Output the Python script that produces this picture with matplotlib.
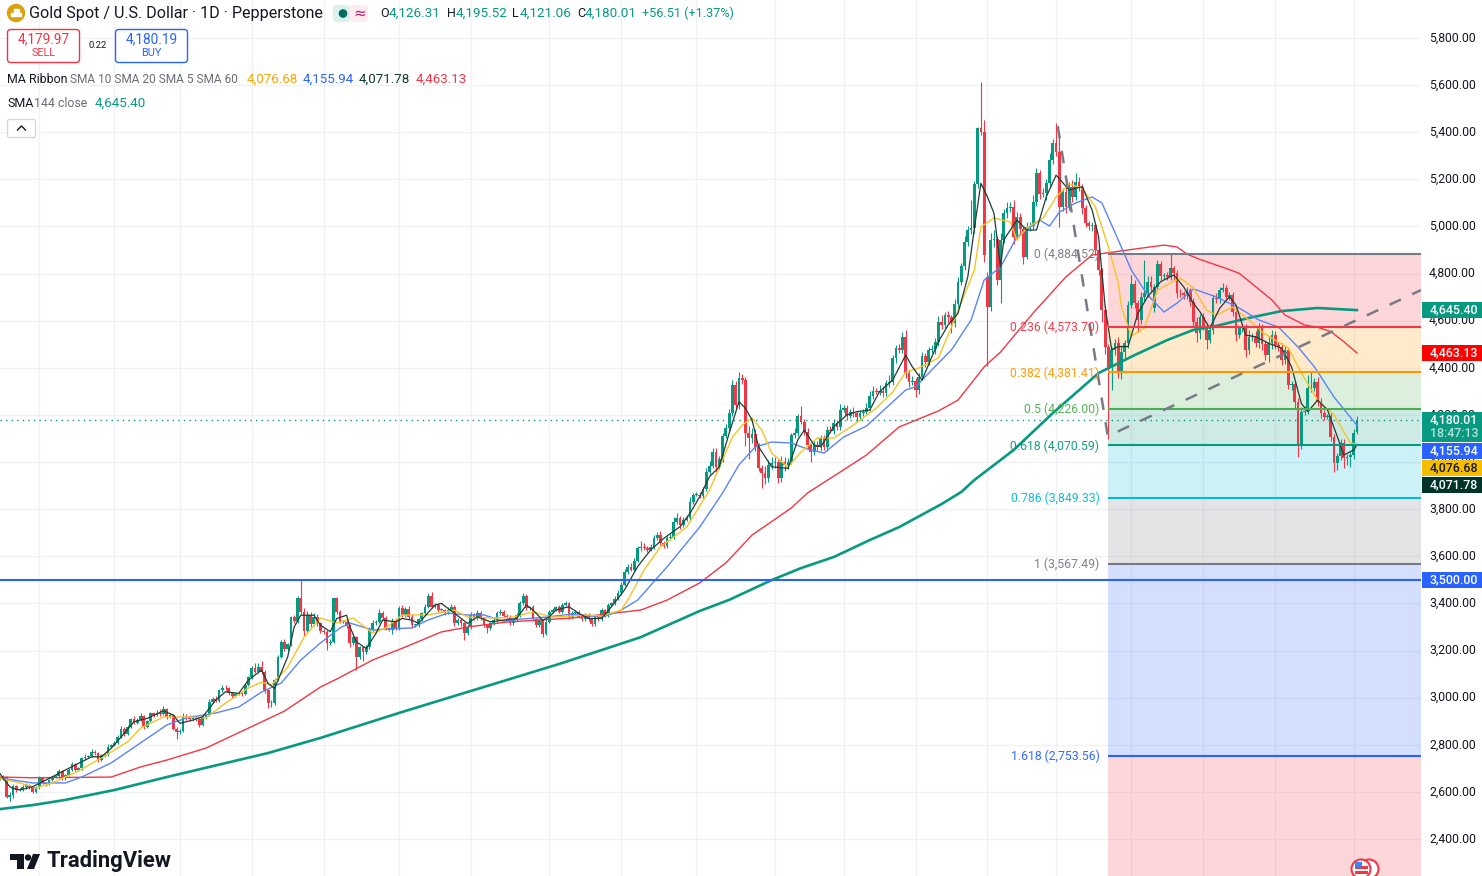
import numpy as np
import matplotlib
matplotlib.use('Agg')
import matplotlib.pyplot as plt
from matplotlib.patches import Circle, FancyBboxPatch, Polygon, Rectangle
from matplotlib.transforms import ScaledTranslation

plt.rcParams['font.family'] = ['Roboto', 'DejaVu Sans']

# daily closes, one per bar
closes = [
    2657,2664,2579,2586,2625,2608,2610,2622,2629,2619,2601,2619,2657,2639,2633,2650,2661,2667,2690,2657,
    2671,2693,2718,2695,2700,2742,2749,2752,2770,2766,2735,2756,2759,2792,2799,2809,2834,2869,2845,2877,
    2908,2894,2905,2922,2877,2902,2933,2926,2936,2930,2951,2919,2926,2869,2855,2860,2919,2912,2908,2916,
    2908,2884,2916,2926,2983,2993,2987,3032,3043,3039,3018,3007,3015,3018,3015,3053,3086,3124,3110,3131,
    3110,3032,2976,2978,3077,3174,3237,3205,3227,3341,3325,3425,3365,3284,3350,3312,3343,3315,3284,3280,
    3230,3237,3421,3365,3322,3322,3305,3230,3256,3174,3213,3195,3213,3287,3315,3322,3360,3336,3294,3287,
    3322,3294,3379,3350,3375,3343,3308,3308,3332,3358,3386,3431,3386,3393,3372,3372,3365,3372,3386,3315,
    3329,3315,3273,3301,3350,3336,3360,3336,3308,3294,3315,3329,3358,3365,3346,3343,3315,3332,3350,3400,
    3431,3379,3383,3332,3308,3329,3270,3322,3365,3372,3383,3365,3393,3400,3341,3360,3365,3343,3332,3350,
    3332,3312,3343,3332,3372,3350,3393,3400,3420,3443,3478,3532,3556,3542,3581,3634,3641,3634,3627,3638,
    3676,3690,3655,3644,3676,3681,3747,3761,3733,3754,3761,3832,3860,3862,3856,3884,3959,3983,4044,3980,
    4012,4111,4143,4207,4327,4242,4355,4348,4122,4101,4119,4065,3976,3952,3931,3988,3995,4002,3931,4002,
    3988,4002,4115,4125,4196,4172,4129,4072,4044,4072,4065,4101,4065,4136,4132,4164,4150,4221,4228,4196,
    4214,4207,4190,4207,4214,4228,4280,4303,4299,4303,4292,4334,4341,4440,4483,4476,4532,4376,4341,4345,
    4306,4362,4450,4426,4476,4480,4508,4596,4582,4624,4614,4589,4671,4766,4832,4935,4985,4992,5180,5419,
    5402,4879,4657,4942,4945,4773,4942,5056,5077,5084,4957,5042,4988,4872,4999,5003,5105,5226,5138,5142,
    5183,5282,5353,5317,5084,5148,5084,5169,5126,5190,5169,5077,5013,5002,5006,4900,4815,4645,4490,4405,
    4476,4504,4377,4469,4504,4667,4756,4674,4603,4702,4716,4766,4744,4744,4841,4790,4792,4784,4822,4801,
    4719,4716,4709,4730,4681,4596,4546,4617,4575,4518,4561,4695,4691,4730,4737,4702,4709,4638,4539,4568,
    4572,4476,4532,4535,4504,4575,4501,4454,4504,4539,4497,4487,4433,4476,4327,4330,4256,4072,4214,4218,
    4313,4316,4340,4256,4207,4193,4196,4108,3997,4026,4080,4016,4023,4030,4122,4180,
]
# opens that do not sit on the previous close
open_gaps = {302: 4787, 353: 4652, 415: 4126}

up_wick = [
    8,6,5,12,8,6,5,7,8,6,4,5,10,6,5,6,5,6,8,5,
    6,7,10,5,5,8,10,6,14,8,5,6,5,10,6,8,8,12,6,8,
    6,16,8,12,6,5,8,6,10,14,12,6,10,5,6,8,14,12,14,10,
    8,6,8,6,10,8,14,6,10,12,8,6,6,5,6,8,6,10,22,18,
    25,8,6,10,6,8,8,14,6,6,10,6,73,14,16,12,18,14,6,6,
    8,10,8,6,6,6,6,8,10,6,6,8,10,12,16,8,16,6,10,6,
    14,12,10,16,8,14,10,6,8,6,10,12,18,8,8,10,6,14,10,8,
    10,8,6,10,12,8,14,6,8,6,8,10,8,12,8,8,6,8,10,12,
    12,10,8,10,6,8,6,10,8,10,8,12,8,10,8,8,6,6,8,8,
    8,6,8,6,8,6,8,8,10,12,14,16,10,14,12,10,24,14,10,16,
    16,12,18,8,10,14,20,22,10,12,14,18,10,12,10,12,14,20,16,14,
    12,12,18,20,22,16,26,20,14,30,24,22,18,10,30,22,28,18,10,24,
    20,14,10,20,10,40,12,14,10,16,18,12,14,18,16,20,14,26,14,16,
    12,18,10,14,10,24,22,18,12,24,20,14,30,16,14,18,20,30,14,20,
    12,18,18,12,14,16,20,26,30,12,16,10,22,20,14,26,18,120,14,4,
    193,50,20,30,40,15,30,20,25,22,30,18,16,14,18,14,30,24,12,20,
    20,30,20,85,64,14,22,20,30,36,18,12,14,10,14,8,8,8,20,10,
    14,20,28,26,16,18,40,18,14,20,142,25,24,12,18,12,10,16,62,10,
    16,14,12,14,10,14,18,12,14,16,22,16,24,12,22,16,12,14,16,10,
    16,14,28,14,20,16,12,18,30,22,16,14,18,16,12,14,16,14,20,18,
    57,71,16,20,14,12,10,14,12,14,18,16,12,14,20,15,
]
dn_wick = [
    6,8,5,18,10,8,6,6,8,6,6,5,8,6,6,5,5,4,6,6,
    8,5,6,6,5,5,6,4,5,8,6,5,6,5,6,5,6,5,6,5,
    4,6,6,5,8,5,6,6,5,6,5,8,6,8,30,8,6,6,8,6,
    8,8,5,6,5,6,6,5,6,6,6,8,6,5,6,5,5,5,6,6,
    8,14,22,14,8,6,6,8,6,8,6,6,8,22,6,10,6,12,8,10,
    28,8,6,8,6,6,8,14,8,56,10,40,8,6,6,6,6,8,8,6,
    18,8,6,6,6,8,14,6,6,8,6,6,6,6,8,6,14,8,6,12,
    6,10,30,8,8,6,6,8,8,20,6,6,6,6,6,8,6,8,6,6,
    6,8,6,8,10,6,14,6,6,6,6,6,6,6,8,6,6,6,8,6,
    8,8,6,6,6,6,6,6,6,6,8,6,8,6,6,6,10,8,8,6,
    6,6,8,10,8,6,8,10,16,8,6,10,8,6,8,8,6,8,10,22,
    8,10,10,12,10,18,16,16,55,90,22,20,16,64,26,14,16,22,20,16,
    28,18,12,12,14,10,16,16,42,14,18,16,14,16,10,12,14,14,10,18,
    10,14,18,10,12,12,10,14,12,16,14,10,14,14,18,14,14,18,22,14,
    30,18,14,22,14,14,20,16,18,14,24,40,16,18,14,16,20,16,18,16,
    14,30,249,14,30,22,99,14,18,16,30,14,26,30,12,18,14,16,20,14,
    30,14,16,18,85,20,26,16,20,14,18,22,16,16,20,20,20,50,30,305,
    99,20,22,24,30,18,14,20,50,18,20,14,18,16,14,18,14,10,12,30,
    24,14,18,16,20,18,35,22,16,38,14,18,14,16,10,20,14,18,26,14,
    14,30,18,20,14,18,26,22,30,22,18,14,20,16,16,20,26,49,18,14,
    16,14,14,16,18,14,12,20,38,31,16,40,30,45,15,5,
]

# moving averages at the bars where they bend
sma5_bars = [0,1,3,4,6,10,13,16,20,24,28,31,34,38,41,45,50,53,55,59,62,66,69,73,76,80,82,84,88,90,92,
             96,98,101,103,106,107,109,112,115,117,121,123,126,128,133,135,139,143,146,150,154,158,161,163,166,168,170,174,177,180,184,187,191,
             195,199,203,208,211,214,217,220,223,226,228,230,232,236,241,244,246,249,251,255,259,262,266,269,273,277,279,282,285,
             287,290,293,296,298,300,302,304,306,307,311,314,317,320,323,327,331,334,336,338,340,
             342,345,348,351,355,359,362,365,367,370,373,376,378,381,384,388,392,395,398,400,403,406,409,411,414,415]
sma5_vals = [2678,2657,2622,2615,2608,2622,2643,2664,2693,2721,2749,2749,2785,2848,2898,2912,2944,2926,2891,2905,2919,2990,3025,3018,3075,3117,3060,3039,3174,3301,3350,
             3350,3308,3280,3336,3350,3301,3237,3209,3273,3329,3322,3336,3329,3315,3393,3400,3358,3315,3343,3322,3329,3336,3393,3372,3329,3343,3372,3386,3358,3336,3336,3386,3457,
             3556,3627,3676,3726,3782,3853,3938,3980,4122,4256,4228,4179,4065,3980,3973,4094,4136,4072,4065,4150,4200,4214,4221,4299,4348,4454,4405,4348,4447,
             4511,4582,4631,4787,4992,5183,5126,5056,4829,4943,5027,4985,4985,5126,5218,5155,5169,5070,4957,4660,4476,
             4490,4490,4631,4702,4766,4794,4744,4674,4638,4568,4652,4702,4667,4539,4532,4504,4483,4405,4249,4214,4263,4221,4108,4030,4051,4072]

sma10_bars = [0,6,11,16,24,31,39,43,50,57,63,69,76,80,83,88,93,98,103,108,114,118,123,131,139,143,151,157,163,169,180,184,190,192,197,202,210,217,224,227,230,233,236,241,245,250,255,261,268,273,277,281,287,291,298,300,304,309,311,314,319,323,327,331,335,339,342,343,346,350,354,358,361,365,369,372,377,382,386,394,398,403,408,413,415]
sma10_vals = [2657,2638,2617,2638,2689,2744,2812,2871,2918,2918,2914,2977,3041,3066,3054,3130,3257,3338,3317,3338,3274,3296,3351,3351,3372,3342,3338,3342,3364,3342,3351,3346,3372,3414,3542,3640,3724,3881,4106,4157,4187,4136,4038,3979,4043,4102,4102,4157,4229,4297,4382,4399,4442,4573,4815,4998,5036,5019,4943,4994,5036,5125,5180,5163,5083,4913,4760,4658,4535,4569,4730,4760,4781,4739,4645,4624,4658,4603,4552,4484,4378,4263,4200,4081,4077]

sma20_bars = [0,10,20,25,34,43,51,57,66,73,80,86,92,98,104,107,114,118,126,131,137,143,148,154,160,167,175,184,189,195,204,214,221,226,231,236,242,247,252,258,265,272,277,280,287,291,297,301,306,311,318,321,324,329,334,337,342,346,351,356,360,365,372,379,385,391,397,402,408,415]
sma20_vals = [2659,2638,2638,2663,2723,2808,2884,2914,2935,2960,3024,3062,3160,3232,3296,3317,3287,3291,3296,3330,3359,3351,3351,3325,3334,3342,3355,3342,3364,3414,3555,3724,3869,3988,4064,4085,4081,4055,4038,4106,4153,4242,4306,4319,4420,4476,4603,4773,4828,4955,5027,5002,5061,5100,5125,5100,4943,4815,4709,4637,4675,4735,4701,4654,4603,4573,4488,4404,4276,4156]

sma60_bars = [0,10,34,43,51,63,80,87,98,103,114,124,135,143,155,175,196,204,214,222,230,242,247,257,265,275,287,293,301,306,316,326,334,347,356,360,363,367,375,379,384,389,393,399,403,407,411,415]
sma60_vals = [2663,2660,2663,2706,2735,2786,2897,2943,3045,3079,3160,3215,3279,3300,3321,3338,3372,3414,3487,3572,3690,3805,3869,3958,4030,4149,4217,4263,4404,4467,4633,4786,4879,4904,4921,4913,4883,4860,4822,4801,4745,4688,4624,4582,4572,4554,4511,4463]

sma144_bars = [0,10,20,35,51,82,98,122,138,155,171,184,196,214,223,236,245,255,266,275,288,294,298,310,322,336,347,357,365,372,382,392,403,415]
sma144_vals = [2527,2544,2566,2608,2663,2765,2829,2935,3003,3075,3143,3202,3257,3368,3415,3499,3550,3597,3669,3724,3822,3873,3924,4051,4208,4378,4454,4518,4561,4578,4612,4641,4654,4645]

fib_labels = ['0', '0.236', '0.382', '0.5', '0.618', '0.786', '1', '1.618']
fib_prices = [4884.52, 4573.70, 4381.41, 4226.00, 4070.59, 3849.33, 3567.49, 2753.56]
fib_colors = ['#787b86', '#f23645', '#ff9800', '#4caf50', '#089981', '#00bcd4', '#787b86', '#2962ff']
fib_start = 338.8

trend_bars = [323.5, 338.8, 434.6]
trend_prices = [5426, 4110, 4730]

month_bars = [12,35,55,77,99,122,144,168,190,213,237,258,280,302,323,346,368,390,414]
price_ticks = np.arange(2400, 5801, 200)

UP = '#089981'
DOWN = '#f23645'

fig = plt.figure(figsize=(14.82, 8.76), dpi=100)
ax = fig.add_axes([0, 0, 1421 / 1482, 1])
ax.set_xlim(0, 434.6)
ax.set_ylim(2243, 5961.3)
for s in ax.spines.values():
    s.set_visible(False)
ax.set_xticks(month_bars)
ax.set_xticklabels([])
ax.set_yticks(price_ticks)
ax.set_yticklabels([f'{v:,.2f}' for v in price_ticks], fontsize=8.8, color='#131722')
ax.yaxis.tick_right()
ax.tick_params(axis='both', length=0)
ax.tick_params(axis='y', pad=5.8)
# the price scale text sits a little above its grid line
nudge = ScaledTranslation(0, 1.5 / 100, fig.dpi_scale_trans)
for t in ax.get_yticklabels():
    t.set_transform(t.get_transform() + nudge)
ax.grid(True, color='#f0f2f6', lw=1)
ax.set_axisbelow(True)

# fib bands, including the one below 1.618
edges = fib_prices + [2243]
band_colors = ['#f23645', '#ff9800', '#4caf50', '#089981', '#00bcd4', '#787b86', '#2962ff', '#f23645']
for k in range(8):
    ax.add_patch(Rectangle((fib_start, edges[k + 1]), 434.6 - fib_start, edges[k] - edges[k + 1],
                           facecolor=band_colors[k], alpha=0.2, lw=0, zorder=1))
for name, price, col in zip(fib_labels, fib_prices, fib_colors):
    ax.hlines(price, fib_start, 434.6, color=col, lw=1.5, zorder=5)
    ax.annotate(f'{name} ({price:,.2f})', (fib_start, price), xytext=(-6, -0.5), textcoords='offset points',
                ha='right', va='center', fontsize=8.8, color=col, alpha=0.95, zorder=6)

ax.axhline(3500, color='#2962ff', lw=1.5, zorder=5)
ax.axhline(4180.01, color=UP, lw=1, ls=(0, (1, 3)), zorder=2)

# candles
close_arr = np.array(closes, dtype=float)
open_arr = np.r_[close_arr[0], close_arr[:-1]]
for bar, val in open_gaps.items():
    open_arr[bar] = val
bars = np.arange(len(close_arr))
top = np.maximum(open_arr, close_arr)
bot = np.minimum(open_arr, close_arr)
high_arr = top + np.array(up_wick)
low_arr = bot - np.array(dn_wick)
colors = [UP if c >= o else DOWN for o, c in zip(open_arr, close_arr)]
ax.vlines(bars, low_arr, high_arr, color=colors, lw=0.8, zorder=3)
ax.bar(bars, np.maximum(top - bot, 3), bottom=bot, width=0.85, color=colors, lw=0, zorder=3)

ax.plot(sma144_bars, sma144_vals, color='#089981', lw=1.9, zorder=4, solid_joinstyle='round')
ax.plot(sma60_bars, sma60_vals, color='#f23645', lw=1, zorder=4, solid_joinstyle='round')
ax.plot(sma20_bars, sma20_vals, color='#5a85f5', lw=1, zorder=4, solid_joinstyle='round')
ax.plot(sma10_bars, sma10_vals, color='#f7c325', lw=1, zorder=4, solid_joinstyle='round')
ax.plot(sma5_bars, sma5_vals, color='#1f3d36', lw=0.9, zorder=4, solid_joinstyle='round')
ax.plot(trend_bars, trend_prices, color='#787b86', lw=1.8, ls=(0, (5, 5)), zorder=5)

# header, price tags and logo in pixel space
ui = fig.add_axes([0, 0, 1, 1])
ui.set_xlim(0, 1482)
ui.set_ylim(876, 0)
ui.axis('off')
ui.patch.set_alpha(0)


def label(x, y, s, color='#131722', size=9, ha='left', **kw):
    ui.text(x, y, s, color=color, fontsize=size, ha=ha, va='center', **kw)


ui.add_patch(Circle((16, 13), 8.5, color='#dca10e'))
ui.add_patch(Rectangle((11, 13), 4.5, 3, color='white'))
ui.add_patch(Rectangle((16.5, 13), 4.5, 3, color='white'))
ui.add_patch(Rectangle((14, 9), 4.5, 3, color='white'))
label(29, 13.5, 'Gold Spot / U.S. Dollar · 1D · Pepperstone', size=11.6)

ui.add_patch(FancyBboxPatch((333, 5), 17, 17, boxstyle='round,pad=0,rounding_size=4', color='#dcf1ee', lw=0))
ui.add_patch(FancyBboxPatch((350, 5), 18, 17, boxstyle='round,pad=0,rounding_size=4', color='#fdebf1', lw=0))
ui.add_patch(Circle((343, 13.5), 3.6, color='#006b5b'))
label(360, 13, '≈', color='#b0205f', size=11, ha='center', family=['DejaVu Sans'])

TEAL = '#089981'
for x, s, c, sz in [(380, 'O', '#131722', 9), (389, '4,126.31', TEAL, 9.7), (447, 'H', '#131722', 9),
                    (456, '4,195.52', TEAL, 9.7), (512, 'L', '#131722', 9), (520, '4,121.06', TEAL, 9.7),
                    (577, 'C', '#131722', 9), (585, '4,180.01', TEAL, 9.7), (642, '+56.51 (+1.37%)', TEAL, 9.1)]:
    label(x, 13.5, s, c, sz)

ui.add_patch(FancyBboxPatch((7.5, 29.5), 72, 33, boxstyle='round,pad=0,rounding_size=3', fc='white', ec='#f23645', lw=1))
label(43.5, 39, '4,179.97', '#f23645', 9.8, ha='center')
label(43.5, 53, 'SELL', '#f23645', 7.8, ha='center')
label(97.5, 45, '0.22', '#131722', 6.8, ha='center')
ui.add_patch(FancyBboxPatch((115.5, 29.5), 72, 33, boxstyle='round,pad=0,rounding_size=3', fc='white', ec='#2962ff', lw=1))
label(151.5, 39, '4,180.19', '#2962ff', 9.8, ha='center')
label(151.5, 53, 'BUY', '#2962ff', 7.8, ha='center')

label(7, 79.5, 'MA Ribbon', size=8.9)
label(70, 79.5, 'SMA 10 SMA 20 SMA 5 SMA 60', '#6a6d78', 8.6)
label(247, 79.5, '4,076.68', '#f7a600', 9.6)
label(303, 79.5, '4,155.94', '#2962ff', 9.6)
label(359, 79.5, '4,071.78', '#0f3a30', 9.6)
label(416, 79.5, '4,463.13', '#f23645', 9.6)
label(7, 103.5, 'SMA', size=9)
label(34, 103.5, '144 close', '#6a6d78', 8.9)
label(95, 103.5, '4,645.40', TEAL, 9.6)

ui.add_patch(FancyBboxPatch((7.5, 119.5), 28, 18, boxstyle='round,pad=0,rounding_size=2', fc='white', ec='#d6d8de', lw=1))
ui.plot([17.5, 21.5, 25.5], [130, 126, 130], color='#131722', lw=1)

# price tags: y top, y bottom, fill, text colour, text
tags = [(302, 318, '#089981', 'white', '4,645.40'), (345, 361, '#ff0000', 'white', '4,463.13'),
        (443, 459, '#2962ff', 'white', '4,155.94'), (460, 476, '#f5bd00', '#131722', '4,076.68'),
        (477, 493, '#00332a', 'white', '4,071.78'), (572, 588, '#2962ff', 'white', '3,500.00')]
for y0, y1, fill, tc, s in tags:
    ui.add_patch(Rectangle((1422, y0), 60, y1 - y0, color=fill, lw=0))
    label(1454, (y0 + y1) / 2, s, tc, 8.9, ha='center', fontweight='medium')
ui.add_patch(Rectangle((1422, 412), 60, 30, color='#089981', lw=0))
label(1454, 420, '4,180.01', 'white', 8.9, ha='center', fontweight='medium')
label(1454, 433.5, '18:47:13', '#b5e3da', 8.9, ha='center', fontweight='medium')

# TradingView logo
ui.add_patch(Polygon([(10, 854), (24, 854), (24, 869), (17, 869), (17, 860), (10, 860)], color='#131722', lw=0))
ui.add_patch(Circle((28, 857.5), 3.2, color='#131722', lw=0))
ui.add_patch(Polygon([(33, 854), (40, 854), (34, 869), (27, 869)], color='#131722', lw=0))
label(46.5, 861, 'TradingView', size=15.8, fontweight='bold')

# event flags cut off by the bottom edge
ui.add_patch(Circle((1369, 869), 9.5, fc='white', ec='#f23645', lw=1.5))
ui.add_patch(Circle((1361, 869), 9.5, fc='white', ec='#f23645', lw=1.5))
ui.add_patch(Rectangle((1355, 866), 13, 2.5, color='#f23645', lw=0))
ui.add_patch(Rectangle((1355, 862), 7, 5, color='#3a86f0', lw=0))
ui.add_patch(Rectangle((1355, 871), 13, 2.5, color='#f23645', lw=0))

fig.savefig('out.png', dpi=100)
